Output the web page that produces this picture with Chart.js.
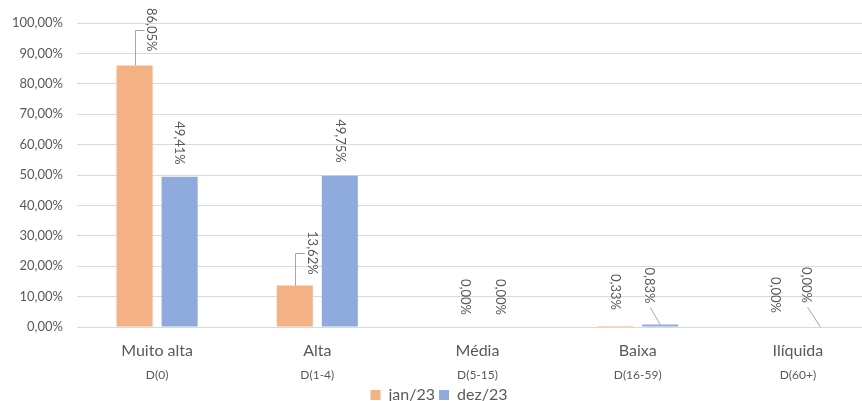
<!DOCTYPE html>
<html>
<head>
<meta charset="utf-8">
<script src="https://cdn.jsdelivr.net/npm/chart.js@4"></script>
<style>
  html, body { margin: 0; padding: 0; background: #fff; overflow: hidden; }
  #wrap { width: 862px; height: 401px; overflow: hidden; position: relative; }
  #box { width: 878px; height: 401px; position: absolute; left: 0; top: 0; }
</style>
</head>
<body>
<div id="wrap"><div id="box"><canvas id="grafico"></canvas></div></div>
<script>
// dados
const categorias = ['Muito alta', 'Alta', 'Média', 'Baixa', 'Ilíquida'];
const prazos = ['D(0)', 'D(1-4)', 'D(5-15)', 'D(16-59)', 'D(60+)'];
const jan23 = [86.05, 13.62, 0.00, 0.33, 0.00];
const dez23 = [49.41, 49.75, 0.00, 0.83, 0.00];
const ticksY = [0, 10, 20, 30, 40, 50, 60, 70, 80, 90, 100];

// posicao dos rotulos (deslocamento x, distancia do topo da barra, tipo de linha)
const rotuloJan = [[17, 14, 'cotovelo'], [17, 11, 'cotovelo'], [10, 12, ''], [0, 16, ''], [0, 14, '']];
const rotuloDez = [[0, 12, ''], [0, 13, ''], [0, 12, ''], [-11, 21, 'diag'], [-14, 24, 'diag']];

const cinza = '#595959';
const fonte = 'Lato, "Open Sans", sans-serif';

function pct(v) {
  return v.toFixed(2).replace('.', ',') + '%';
}

// rotulos de dados verticais, estilo Excel
const rotulosPlugin = {
  id: 'rotulos',
  afterDatasetsDraw(chart) {
    const ctx = chart.ctx;
    const cfg = [rotuloJan, rotuloDez];
    ctx.save();
    ctx.font = '13px ' + fonte;
    chart.data.datasets.forEach((ds, i) => {
      const meta = chart.getDatasetMeta(i);
      meta.data.forEach((bar, j) => {
        const [dx, gap, tipo] = cfg[i][j];
        const txt = pct(ds.data[j]);
        const w = ctx.measureText(txt).width;
        const cx = bar.x + dx;
        const fim = bar.y - gap;
        const cy = fim - w / 2;

        ctx.strokeStyle = '#a6a6a6';
        ctx.lineWidth = 1;
        if (tipo === 'cotovelo') {
          ctx.beginPath();
          ctx.moveTo(Math.round(bar.x) + 0.5, bar.y);
          ctx.lineTo(Math.round(bar.x) + 0.5, Math.round(cy) + 0.5);
          ctx.lineTo(cx - 7, Math.round(cy) + 0.5);
          ctx.stroke();
        } else if (tipo === 'diag') {
          ctx.beginPath();
          ctx.moveTo(cx + 1, fim + 4);
          ctx.lineTo(bar.x, bar.y);
          ctx.stroke();
        }

        ctx.save();
        ctx.translate(cx, cy);
        ctx.rotate(Math.PI / 2);
        ctx.fillStyle = cinza;
        ctx.textAlign = 'center';
        ctx.textBaseline = 'middle';
        ctx.fillText(txt, 0, 0);
        ctx.restore();
      });
    });
    ctx.restore();
  }
};

new Chart(document.getElementById('grafico'), {
  type: 'bar',
  data: {
    labels: categorias,
    datasets: [
      { label: 'jan/23', data: jan23, backgroundColor: '#f4b183', categoryPercentage: 0.5625, barPercentage: 0.8 },
      { label: 'dez/23', data: dez23, backgroundColor: '#8faadc', categoryPercentage: 0.5625, barPercentage: 0.8 }
    ]
  },
  options: {
    responsive: true,
    maintainAspectRatio: false,
    animation: false,
    layout: { padding: { top: 23, right: 0, left: 0, bottom: -12 } },
    plugins: {
      legend: {
        position: 'bottom',
        labels: {
          boxWidth: 10,
          boxHeight: 10,
          padding: 4,
          color: cinza,
          font: { family: fonte, size: 16 }
        }
      },
      tooltip: { enabled: false }
    },
    scales: {
      x: {
        weight: 0,
        grid: { display: false, drawTicks: false },
        border: { display: false },
        ticks: { padding: 14, color: cinza, font: { family: fonte, size: 16 } },
        afterFit: (s) => { s.height = 33; }
      },
      x2: {
        type: 'category',
        position: 'bottom',
        weight: 1,
        labels: prazos,
        grid: { display: false, drawTicks: false },
        border: { display: false },
        ticks: { padding: 8, color: cinza, font: { family: fonte, size: 12 } },
        afterFit: (s) => { s.height = 23; }
      },
      y: {
        min: 0,
        max: 100,
        afterFit: (s) => { s.width = 77; },
        afterBuildTicks: (s) => { s.ticks = ticksY.map(v => ({ value: v })); },
        grid: { color: '#d9d9d9', drawTicks: false },
        border: { display: false },
        ticks: {
          padding: 14,
          color: cinza,
          font: { family: fonte, size: 13 },
          callback: (v) => pct(v)
        }
      }
    }
  },
  plugins: [rotulosPlugin]
});
</script>
</body>
</html>
